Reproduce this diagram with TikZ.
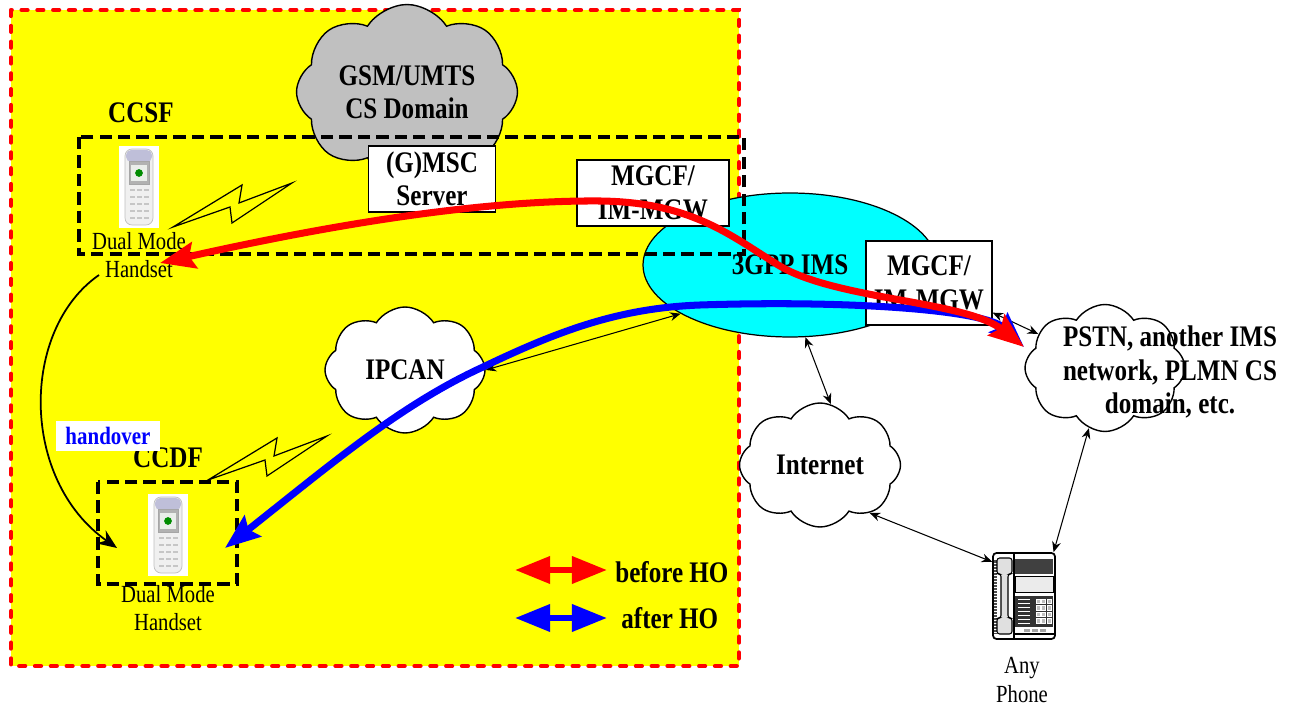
\documentclass[tikz,border=0pt]{standalone}
\usepackage{fontspec}
\setmainfont{Liberation Serif}[FakeStretch=0.84]
\usetikzlibrary{arrows.meta,calc,positioning,shapes.geometric,shapes.symbols}

\definecolor{areayellow}{RGB}{255,255,0}
\definecolor{imscyan}{RGB}{0,255,255}
\definecolor{csgray}{RGB}{192,192,192}
\definecolor{beforered}{RGB}{255,0,0}
\definecolor{afterblue}{RGB}{0,0,255}

\tikzset{
  mobile/.pic={
    \fill[white] (-20,-41) rectangle (20,41);
    \filldraw[fill=gray!12, draw=gray!50, rounded corners=4pt] (-14,-38) rectangle (14,38);
    \fill[blue!25!gray!40, rounded corners=3pt] (-13,-37) rectangle (13,-25);
    \filldraw[fill=gray!60, draw=gray!70] (-10,-26) rectangle (10,-3);
    \fill[green!10!gray!15] (-8,-22) rectangle (8,-6);
    \fill[green!55!black] (0,-14) circle (2.2pt);
    \foreach \r in {3,10,17,24,31}
      \foreach \c in {-7,0,7}
        \fill[gray!45] (\c-2.5,\r-1.2) rectangle (\c+2.5,\r+1.2);
  },
  deskphone/.pic={
    \filldraw[fill=white, draw=black, line width=1pt, rounded corners=2pt] (-31,-43) rectangle (31,43);
    \fill[black!70] (-30,-36) rectangle (-27,38);
    \foreach \y in {-33,-30,...,36} \draw[white, line width=0.3pt] (-30,\y) -- (-27,\y);
    \filldraw[fill=black!12, draw=black, line width=0.6pt, rounded corners=1.5pt]
      (-27,-38) -- (-12,-38) -- (-12,-22) -- (-16,-22) -- (-16,22) -- (-12,22) -- (-12,38)
      -- (-27,38) -- (-27,22) -- (-23,22) -- (-23,-22) -- (-27,-22) -- cycle;
    \draw[line width=0.6pt] (-10,-43) -- (-10,43);
    \fill[black!75] (-9,-37) rectangle (29,-22);
    \filldraw[fill=black!8, draw=black, line width=0.4pt] (-9,-20) rectangle (29,-4);
    \fill[black!80] (-9,0) rectangle (29,31);
    \foreach \y in {3,7,...,27} \draw[white, line width=0.5pt] (-6,\y) -- (6,\y);
    \foreach \r in {0,1,2,3}
      \foreach \c in {0,1,2}
        \filldraw[fill=black!25, draw=white, line width=0.3pt] (12+\c*5.5,3+\r*6.5) rectangle +(4,4.5);
    \foreach \c in {0,1,2}
      \fill[black!35] (\c*8,33) rectangle +(6,3);
    \draw[line width=0.6pt] (-10,38) -- (31,38);
  },
  bolt/.pic={
    \filldraw[fill=areayellow, draw=black, line width=0.7pt]
      (0,0) -- (69,-42) -- (66,-24) -- (119,-44) -- (59,-4) -- (57,-20) -- cycle;
  }
}

\begin{document}
\begin{tikzpicture}[x=0.02cm, y=-0.02cm,
  big/.style={font=\fontsize{17}{19}\selectfont\bfseries, align=center, inner sep=0pt},
  small/.style={font=\fontsize{14}{16}\selectfont, align=center, inner sep=0pt},
  box/.style={rectangle, draw, fill=white, line width=0.7pt, inner sep=0pt},
  net/.style={cloud, cloud puffs=8, cloud puff arc=115, cloud ignores aspect, draw, fill=white,
    line width=0.8pt, inner sep=0pt},
  zone/.style={draw=black, line width=2.3pt, dash pattern=on 7pt off 3.5pt},
  link/.style={{Stealth[length=6pt,width=5pt]}-{Stealth[length=6pt,width=5pt]}, line width=0.6pt},
  call/.style={line width=4pt, {Stealth[length=20pt,width=15pt,inset=3pt]}-{Stealth[length=20pt,width=15pt,inset=3pt]}},
  key/.style={line width=3.4pt, {Triangle[length=20pt,width=15pt]}-{Triangle[length=20pt,width=15pt]}}]

  \useasboundingbox (0,0) rectangle (1291,705);

  \draw[fill=areayellow, draw=beforered, line width=2.3pt, line cap=round, dash pattern=on 3.5pt off 5.5pt]
    (11,10) rectangle (739,666);

  \node[net, fill=csgray, minimum width=4.42cm, minimum height=3.5cm] (csd) at (407,92) {};
  \node[big] (csd text) at (csd.center) {GSM/UMTS\\CS Domain};
  \node[ellipse, draw, fill=imscyan, line width=0.7pt, minimum width=5.88cm, minimum height=2.88cm] (ims) at (790,265) {};

  \draw[zone] (79,137) rectangle (744,254);
  \draw[zone] (98,482) rectangle (237,584);

  \node[box, minimum width=2.54cm, minimum height=1.32cm] (msc) at (432,179) {};
  \node[big] (msc text) at (msc.center) {(G)MSC\\Server};
  \node[box, minimum width=3.04cm, minimum height=1.32cm] (mgcf1) at (653,193) {};
  \node[big] (mgcf1 text) at (mgcf1.center) {MGCF/\\IM-MGW};
  \node[big] (ims text) at (790,265) {3GPP IMS};
  \node[box, minimum width=2.52cm, minimum height=1.68cm] (mgcf2) at (929,283) {};
  \node[big] (mgcf2 text) at (mgcf2.center) {MGCF/\\IM-MGW};

  \node[net, minimum width=3.2cm, minimum height=2.52cm] (ipcan) at (405,370) {};
  \node[big] (ipcan text) at (ipcan.center) {IPCAN};
  \node[net, minimum width=3.22cm, minimum height=2.48cm] (internet) at (820,465) {};
  \node[big] (internet text) at (internet.center) {Internet};
  \node[net, minimum width=3.2cm, minimum height=2.54cm] (pstn) at (1105,368) {};
  \node[big] (pstn text) at (1170,372) {PSTN, another IMS\\network, PLMN CS\\domain, etc.};

  \node[big] (ccsf) at (141,113) {CCSF};
  \node[big] (ccdf) at (168,458) {CCDF};
  \node[inner sep=0pt, minimum width=0.82cm, minimum height=1.64cm] (hs1) at (139,187) {};
  \pic at (hs1.center) {mobile};
  \node[small] (hs1 label) at (139,255) {Dual Mode\\Handset};
  \node[inner sep=0pt, minimum width=0.82cm, minimum height=1.64cm] (hs2) at (168,535) {};
  \pic at (hs2.center) {mobile};
  \node[small] (hs2 label) at (168,608) {Dual Mode\\Handset};
  \node[inner sep=0pt, minimum width=1.26cm, minimum height=1.74cm] (phone) at (1024,596) {};
  \pic at (phone.center) {deskphone};
  \node[small] (phone label) at (1022,680) {Any\\Phone};

  \pic at (173,227) {bolt};
  \pic at (208,480) {bolt};

  \path[link]
    (ipcan.east) edge (ims.204)
    (ims.282) edge (internet.80)
    (internet.-44) edge (phone.133)
    (phone.56) edge (pstn.255)
    (mgcf2.-25) edge (pstn.153);

  \coordinate (hs1 end) at (160,263);
  \coordinate (hs2 end) at (225,548);
  \coordinate (pstn end) at (1024,347);

  \draw[call, afterblue] (hs2 end) .. controls (330,465) and (400,405) .. (483,367)
    .. controls (560,330) and (620,308) .. (700,305)
    .. controls (850,300) and (985,310) .. (pstn end);
  \draw[call, beforered] (hs1 end) .. controls (330,225) and (480,200) .. (600,201)
    .. controls (690,202) and (730,235) .. (775,263)
    .. controls (830,300) and (965,300) .. (pstn end);

  \coordinate (ho start) at (99,275);
  \coordinate (ho end) at (117,548);
  \draw[line width=1pt, -{Stealth[length=11pt,width=9pt]}] (ho start) .. controls (20,330) and (20,480) .. (ho end);
  \node[fill=white, text=afterblue, font=\fontsize{14.2}{16}\selectfont\bfseries, inner sep=0pt,
    minimum width=2.08cm, minimum height=0.6cm] (ho label) at (108,436) {handover};

  \coordinate (before a) at (515,570);
  \coordinate (before b) at (607,570);
  \coordinate (after a) at (515,618);
  \coordinate (after b) at (607,618);
  \draw[key, beforered] (before a) -- (before b);
  \draw[key, afterblue] (after a) -- (after b);
  \node[big, anchor=west] (before) at (615,572) {before HO};
  \node[big, anchor=west] (after) at (621,618) {after HO};
\end{tikzpicture}
\end{document}
